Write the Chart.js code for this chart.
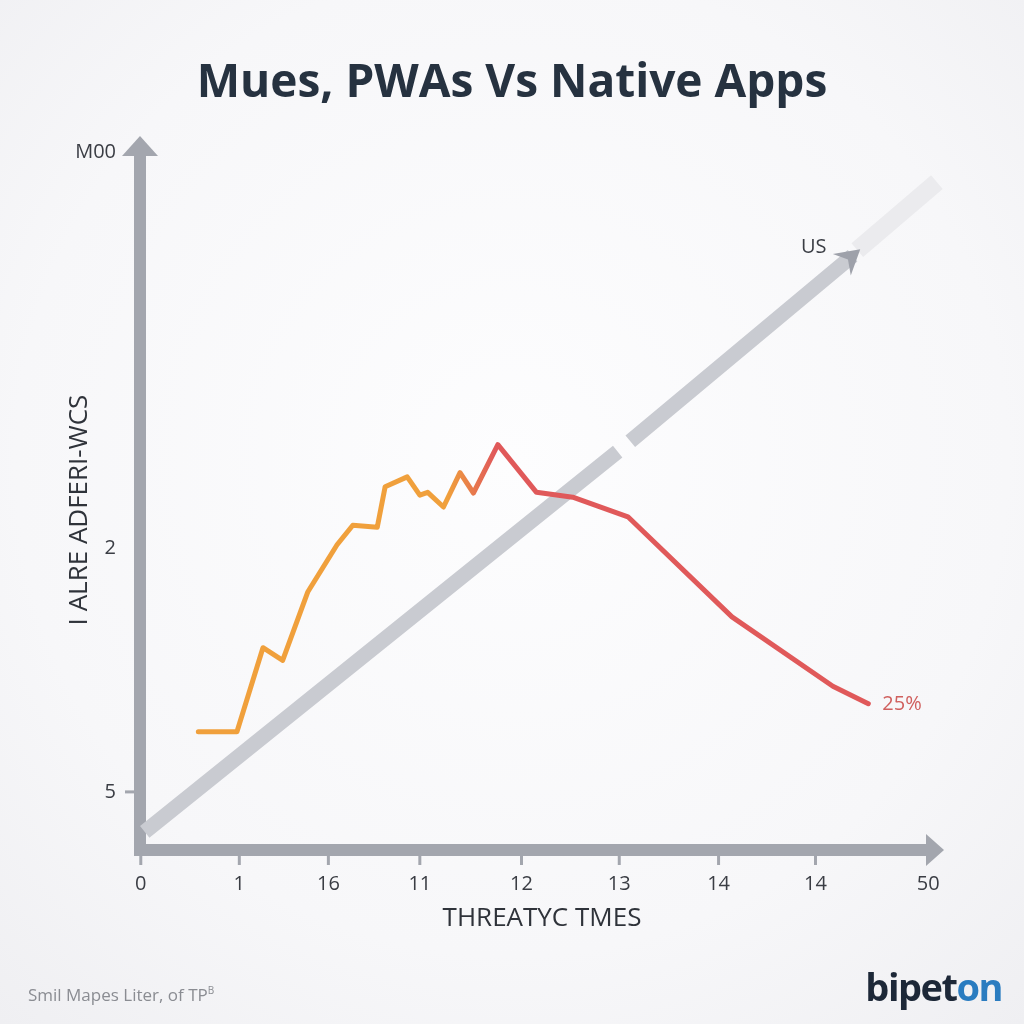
<!DOCTYPE html>
<html>
<head>
<meta charset="utf-8">
<script src="https://cdn.jsdelivr.net/npm/chart.js@4.4.1/dist/chart.umd.min.js"></script>
<style>
html, body { margin: 0; padding: 0; }
body { background: radial-gradient(circle at 50% 45%, #fdfdfe 0%, #f7f7f9 65%, #efeff2 100%); }
#wrap { position: relative; width: 1024px; height: 1024px; }
#chart { position: absolute; left: 0; top: 0; }
#title { position: absolute; top: 48px; left: 0; width: 1024px; text-align: center;
  font: 700 46px "Open Sans", sans-serif; color: #263240; }
#source { position: absolute; left: 28px; top: 983px; font: 17px "Open Sans", sans-serif; color: #8a8c92; }
#source sup { font-size: 10px; }
#logo { position: absolute; right: 22px; top: 960px; font: 700 38px "Open Sans", sans-serif;
  color: #1d2838; letter-spacing: -1.5px; }
#logo span { color: #2a7cc0; }
</style>
</head>
<body>
<div id="wrap">
  <canvas id="chart" width="1024" height="1024"></canvas>
  <div id="title">Mues, PWAs Vs Native Apps</div>
  <div id="source">Smil Mapes Liter, of TP<sup>B</sup></div>
  <div id="logo">bipet<span>on</span></div>
</div>
<script>
// usage line (orange turning red)
const usageX = [7.4, 12.3, 15.6, 18.1, 21.3, 25.0, 27.0, 30.1, 31.1, 33.9, 35.5, 36.5, 38.5, 40.6, 42.3, 45.4, 50.3, 54.9, 61.9, 75.1, 87.9, 92.4];
const usageY = [16.9, 16.9, 28.9, 27.1, 36.9, 43.6, 46.4, 46.1, 51.9, 53.3, 50.7, 51.1, 49.0, 53.9, 51.0, 57.9, 51.1, 50.4, 47.6, 33.3, 23.4, 20.9];

// gray diagonal trend (null = the small break in the line)
const trendX = [0.6, 60.6, 61.4, 62.2, 90.4];
const trendY = [2.6, 56.9, null, 58.4, 84.9];
// faint continuation past the arrow
const fadeX = [91.0, 101.1];
const fadeY = [85.7, 95.4];

const xTickValues = [0.1, 12.6, 23.9, 35.5, 48.4, 60.8, 73.4, 85.7, 100];
const xTickLabels = ['0', '1', '16', '11', '12', '13', '14', '14', '50'];
const yTickValues = [8.3, 43.1, 99.7];
const yTickLabels = ['5', '2', 'M00'];

const usageEndLabel = '25%';
const trendEndLabel = 'US';

const toPoints = (xs, ys) => xs.map((x, i) => ({ x: x, y: ys[i] }));

const axisColor = '#a3a6ae';

const axesPlugin = {
    id: 'axesPlugin',
    beforeDatasetsDraw(chart) {
        const { ctx, chartArea: a, scales: { x, y } } = chart;
        ctx.save();
        ctx.strokeStyle = axisColor;
        ctx.fillStyle = axisColor;
        ctx.lineWidth = 12;
        // y axis + arrow
        ctx.beginPath();
        ctx.moveTo(a.left, a.bottom + 6);
        ctx.lineTo(a.left, a.top + 18);
        ctx.stroke();
        ctx.beginPath();
        ctx.moveTo(a.left, a.top);
        ctx.lineTo(a.left - 18, a.top + 20);
        ctx.lineTo(a.left + 18, a.top + 20);
        ctx.closePath();
        ctx.fill();
        // x axis + arrow
        ctx.beginPath();
        ctx.moveTo(a.left - 6, a.bottom);
        ctx.lineTo(a.right - 16, a.bottom);
        ctx.stroke();
        ctx.beginPath();
        ctx.moveTo(a.right, a.bottom);
        ctx.lineTo(a.right - 18, a.bottom - 16);
        ctx.lineTo(a.right - 18, a.bottom + 16);
        ctx.closePath();
        ctx.fill();
        // tick marks
        ctx.lineWidth = 3;
        xTickValues.slice(0, -1).forEach(v => {
            const px = x.getPixelForValue(v);
            ctx.beginPath();
            ctx.moveTo(px, a.bottom + 6);
            ctx.lineTo(px, a.bottom + 15);
            ctx.stroke();
        });
        const py = y.getPixelForValue(yTickValues[0]);
        ctx.beginPath();
        ctx.moveTo(a.left - 15, py);
        ctx.lineTo(a.left - 6, py);
        ctx.stroke();
        // y axis title, a bit below the middle like the original
        ctx.save();
        ctx.translate(80, (a.top + a.bottom) / 2 + 17);
        ctx.rotate(-Math.PI / 2);
        ctx.font = "26px 'Open Sans', sans-serif";
        ctx.fillStyle = '#2f333a';
        ctx.textAlign = 'center';
        ctx.textBaseline = 'middle';
        ctx.fillText('I ALRE ADFERI-WCS', 0, 0);
        ctx.restore();
        ctx.restore();
    },
    afterDatasetsDraw(chart) {
        const { ctx, scales: { x, y } } = chart;
        ctx.save();
        // arrowhead at the end of the trend line
        const n = trendX.length - 1;
        const ex = x.getPixelForValue(trendX[n]), ey = y.getPixelForValue(trendY[n]);
        const bx = x.getPixelForValue(trendX[n - 1]), by = y.getPixelForValue(trendY[n - 1]);
        const len = Math.hypot(ex - bx, ey - by);
        const dx = (ex - bx) / len, dy = (ey - by) / len;
        const tipX = ex + dx * 10, tipY = ey + dy * 10;
        ctx.fillStyle = '#9ea1aa';
        ctx.beginPath();
        ctx.moveTo(tipX, tipY);
        ctx.lineTo(tipX - dx * 24 - dy * 14, tipY - dy * 24 + dx * 14);
        ctx.lineTo(tipX - dx * 16, tipY - dy * 16);
        ctx.lineTo(tipX - dx * 24 + dy * 14, tipY - dy * 24 - dx * 14);
        ctx.closePath();
        ctx.fill();
        // end labels
        ctx.font = "20px 'Open Sans', sans-serif";
        ctx.textBaseline = 'middle';
        ctx.fillStyle = '#3a3d44';
        ctx.textAlign = 'right';
        ctx.fillText(trendEndLabel, ex - 26, ey - 8);
        const m = usageX.length - 1;
        ctx.fillStyle = '#d0605e';
        ctx.textAlign = 'left';
        ctx.fillText(usageEndLabel, x.getPixelForValue(usageX[m]) + 14, y.getPixelForValue(usageY[m]) + 1);
        ctx.restore();
    }
};

function usageColor(context) {
    const chart = context.chart;
    if (!chart.chartArea) return '#f0a03c';
    const xs = chart.scales.x;
    const g = chart.ctx.createLinearGradient(xs.getPixelForValue(39), 0, xs.getPixelForValue(45), 0);
    g.addColorStop(0, '#f0a03c');
    g.addColorStop(1, '#e0595a');
    return g;
}

const chart = new Chart(document.getElementById('chart'), {
    type: 'line',
    data: {
        datasets: [
            {
                label: 'Usage',
                data: toPoints(usageX, usageY),
                borderColor: usageColor,
                borderWidth: 5,
                borderJoinStyle: 'round',
                borderCapStyle: 'round',
                pointRadius: 0,
                tension: 0
            },
            {
                label: 'Trend',
                data: toPoints(trendX, trendY),
                borderColor: '#c9cbd1',
                borderWidth: 15,
                pointRadius: 0,
                spanGaps: false,
                tension: 0
            },
            {
                label: 'Trend fade',
                data: toPoints(fadeX, fadeY),
                borderColor: '#ebebee',
                borderWidth: 18,
                pointRadius: 0,
                tension: 0
            }
        ]
    },
    options: {
        responsive: false,
        animation: false,
        clip: false,
        layout: { padding: { top: 136, right: 80, left: 0, bottom: 0 } },
        plugins: { legend: { display: false }, tooltip: { enabled: false } },
        scales: {
            x: {
                type: 'linear',
                min: 0,
                max: 102,
                border: { display: false },
                grid: { display: false, drawTicks: false },
                afterBuildTicks: scale => { scale.ticks = xTickValues.map(v => ({ value: v })); },
                afterFit: scale => { scale.height = 174; },
                ticks: {
                    autoSkip: false,
                    maxRotation: 0,
                    padding: 22,
                    color: '#3a3d44',
                    font: { family: "'Open Sans', sans-serif", size: 20 },
                    callback: (value, index) => xTickLabels[index]
                },
                title: {
                    display: true,
                    text: 'THREATYC TMES',
                    color: '#2f333a',
                    font: { family: "'Open Sans', sans-serif", size: 26 },
                    padding: { top: 0, bottom: 90 }
                }
            },
            y: {
                type: 'linear',
                min: 0,
                max: 102,
                border: { display: false },
                grid: { display: false, drawTicks: false },
                afterBuildTicks: scale => { scale.ticks = yTickValues.map(v => ({ value: v })); },
                afterFit: scale => { scale.width = 140; },
                ticks: {
                    autoSkip: false,
                    padding: 24,
                    color: '#3a3d44',
                    font: { family: "'Open Sans', sans-serif", size: 20 },
                    callback: (value, index) => yTickLabels[index]
                }
            }
        }
    },
    plugins: [axesPlugin]
});
</script>
</body>
</html>
